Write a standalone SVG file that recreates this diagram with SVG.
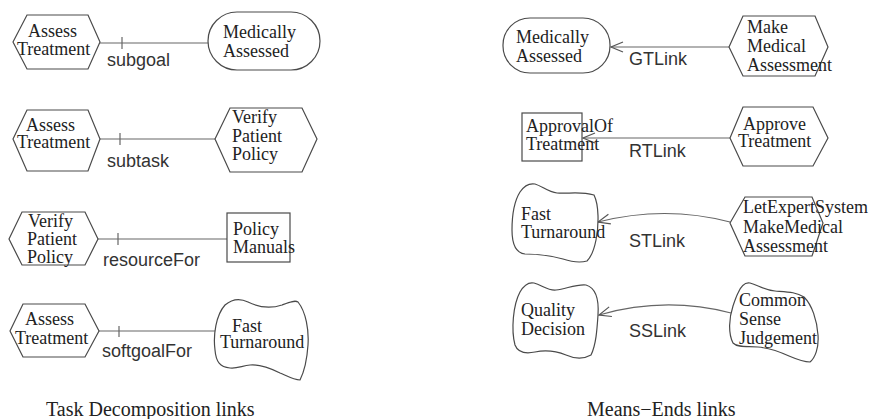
<svg xmlns="http://www.w3.org/2000/svg" width="877" height="419" viewBox="0 0 877 419">
  <style>
    .shape { fill: #ffffff; stroke: #4a4a4a; stroke-width: 1.2; }
    .t { font-family: "Liberation Serif", "Times New Roman", serif; font-size: 18px; fill: #222222; }
    .cap { font-family: "Liberation Serif", "Times New Roman", serif; font-size: 20px; fill: #222222; }
    .lnk { font-family: "Liberation Sans", Arial, sans-serif; font-size: 18px; fill: #333333; }
    .conn { fill: none; stroke: #666666; stroke-width: 1.2; }
  </style>
  <defs>
    <marker id="openArrow" markerUnits="userSpaceOnUse" markerWidth="14" markerHeight="12" refX="12" refY="5" orient="auto" viewBox="-1 -1 14 12">
      <path d="M0,0 L12,5 L0,10" fill="none" stroke="#555555" stroke-width="1.2"/>
    </marker>
  </defs>
  <rect width="877" height="419" fill="#ffffff"/>

  <!-- connectors -->
  <g id="connectors">
    <!-- task decomposition links with decomposition tick -->
    <line class="conn" x1="100" y1="43" x2="208" y2="43"/>
    <line class="conn" x1="122" y1="37" x2="122" y2="49"/>
    <line class="conn" x1="100" y1="139" x2="215" y2="139"/>
    <line class="conn" x1="120" y1="133" x2="120" y2="145"/>
    <line class="conn" x1="98" y1="239" x2="227" y2="239"/>
    <line class="conn" x1="118" y1="233" x2="118" y2="245"/>
    <line class="conn" x1="99" y1="331" x2="215" y2="331"/>
    <line class="conn" x1="119" y1="326" x2="119" y2="337"/>
    <!-- means-ends links -->
    <line class="conn" x1="729" y1="47" x2="611" y2="47" marker-end="url(#openArrow)"/>
    <line class="conn" x1="730" y1="138" x2="583" y2="138" marker-end="url(#openArrow)"/>
    <path class="conn" d="M730,222 Q665,205 598,222" marker-end="url(#openArrow)"/>
    <path class="conn" d="M731,313 Q665,296 599,315" marker-end="url(#openArrow)"/>
    <!-- link labels -->
    <text class="lnk" x="107" y="66">subgoal</text>
    <text class="lnk" x="107" y="167">subtask</text>
    <text class="lnk" x="103" y="266">resourceFor</text>
    <text class="lnk" x="102" y="357">softgoalFor</text>
    <text class="lnk" x="629" y="65">GTLink</text>
    <text class="lnk" x="629" y="157">RTLink</text>
    <text class="lnk" x="629" y="247">STLink</text>
    <text class="lnk" x="629" y="337">SSLink</text>
  </g>

  <!-- left column: task decomposition -->
  <g id="assess-treatment-1">
    <polygon class="shape" points="13,42 27,15 88,15 100,42 88,69 27,69"/>
    <text class="t" x="28" y="37">Assess</text>
    <text class="t" x="17" y="55">Treatment</text>
  </g>
  <g id="medically-assessed-1">
    <rect class="shape" x="208" y="12" width="112" height="58" rx="29" ry="29"/>
    <text class="t" x="223" y="38">Medically</text>
    <text class="t" x="223" y="57">Assessed</text>
  </g>

  <g id="assess-treatment-2">
    <polygon class="shape" points="13,139 27,110 88,110 100,139 88,171 27,171"/>
    <text class="t" x="26" y="131">Assess</text>
    <text class="t" x="17" y="148">Treatment</text>
  </g>
  <g id="verify-patient-policy-1">
    <polygon class="shape" points="215,139 230,108 302,108 317,139 302,172 230,172"/>
    <text class="t" x="232" y="123">Verify</text>
    <text class="t" x="232" y="142">Patient</text>
    <text class="t" x="232" y="160">Policy</text>
  </g>

  <g id="verify-patient-policy-2">
    <polygon class="shape" points="9,239 22,212 85,212 98,239 85,265 22,265"/>
    <text class="t" x="28" y="227">Verify</text>
    <text class="t" x="27" y="245">Patient</text>
    <text class="t" x="27" y="263">Policy</text>
  </g>
  <g id="policy-manuals">
    <rect class="shape" x="227" y="213" width="63" height="49"/>
    <text class="t" x="233" y="235">Policy</text>
    <text class="t" x="233" y="253">Manuals</text>
  </g>

  <g id="assess-treatment-3">
    <polygon class="shape" points="10,331 23,304 85,304 99,331 85,357 23,357"/>
    <text class="t" x="25" y="325">Assess</text>
    <text class="t" x="15" y="344">Treatment</text>
  </g>
  <g id="fast-turnaround-1">
    <path class="shape" d="M225,305 C232,299 240,298 248,302 C258,307 270,309 282,305 C290,302 295,300 298,302 C306,312 309,330 308,345 C307,360 304,372 300,380 C294,380 287,376 280,373 C270,368 260,364 250,365 C242,366 236,369 230,368 C220,367 216,362 215,350 C213,335 216,315 225,305 Z"/>
    <text class="t" x="232" y="332">Fast</text>
    <text class="t" x="220" y="348">Turnaround</text>
  </g>

  <!-- right column: means-ends -->
  <g id="medically-assessed-2">
    <rect class="shape" x="503" y="18" width="107" height="55" rx="27" ry="27"/>
    <text class="t" x="516" y="43">Medically</text>
    <text class="t" x="516" y="62">Assessed</text>
  </g>
  <g id="make-medical-assessment">
    <polygon class="shape" points="729,47 743,16 815,16 828,47 815,76 743,76"/>
    <text class="t" x="747" y="33">Make</text>
    <text class="t" x="747" y="52">Medical</text>
    <text class="t" x="747" y="71">Assessment</text>
  </g>

  <g id="approval-of-treatment">
    <rect class="shape" x="522" y="113" width="60" height="48"/>
    <text class="t" x="526" y="132">ApprovalOf</text>
    <text class="t" x="526" y="150">Treatment</text>
  </g>
  <g id="approve-treatment">
    <polygon class="shape" points="730,138 743,107 813,107 828,138 813,166 743,166"/>
    <text class="t" x="743" y="130">Approve</text>
    <text class="t" x="738" y="147">Treatment</text>
  </g>

  <g id="fast-turnaround-2">
    <path class="shape" d="M520,192 C524,186 529,183 535,184 C542,186 548,192 557,193 C568,194 580,191 594,195 C599,205 599,225 596,240 C594,250 591,257 587,261 C580,263 572,262 563,259 C552,256 540,254 525,254 C516,253 512,245 512,230 C512,215 515,200 520,192 Z"/>
    <text class="t" x="521" y="220">Fast</text>
    <text class="t" x="521" y="238">Turnaround</text>
  </g>
  <g id="let-expert-system">
    <polygon class="shape" points="730,223 745,197 812,197 823,223 812,256 745,256"/>
    <text class="t" x="743" y="213">LetExpertSystem</text>
    <text class="t" x="743" y="233">MakeMedical</text>
    <text class="t" x="743" y="252">Assessment</text>
  </g>

  <g id="quality-decision">
    <path class="shape" d="M520,292 C524,285 529,282 534,283 C542,285 548,291 556,290 C566,289 576,284 586,285 C596,288 599,300 598,315 C597,330 596,345 591,355 C584,359 575,359 566,355 C556,351 545,350 535,352 C525,354 518,353 515,345 C511,330 513,305 520,292 Z"/>
    <text class="t" x="521" y="316">Quality</text>
    <text class="t" x="521" y="335">Decision</text>
  </g>
  <g id="common-sense-judgement">
    <path class="shape" d="M738,293 C741,286 745,282 750,283 C758,285 764,290 775,291 C788,292 796,292 804,297 C812,305 817,320 818,335 C819,348 815,358 810,362 C803,362 796,359 789,356 C778,351 768,348 758,347 C748,346 738,348 733,343 C728,333 729,318 733,306 C735,300 736,297 738,293 Z"/>
    <text class="t" x="739" y="306">Common</text>
    <text class="t" x="739" y="325">Sense</text>
    <text class="t" x="739" y="344">Judgement</text>
  </g>

  <!-- captions -->
  <text class="cap" x="46" y="416">Task Decomposition links</text>
  <text class="cap" x="587" y="416">Means−Ends links</text>
</svg>
